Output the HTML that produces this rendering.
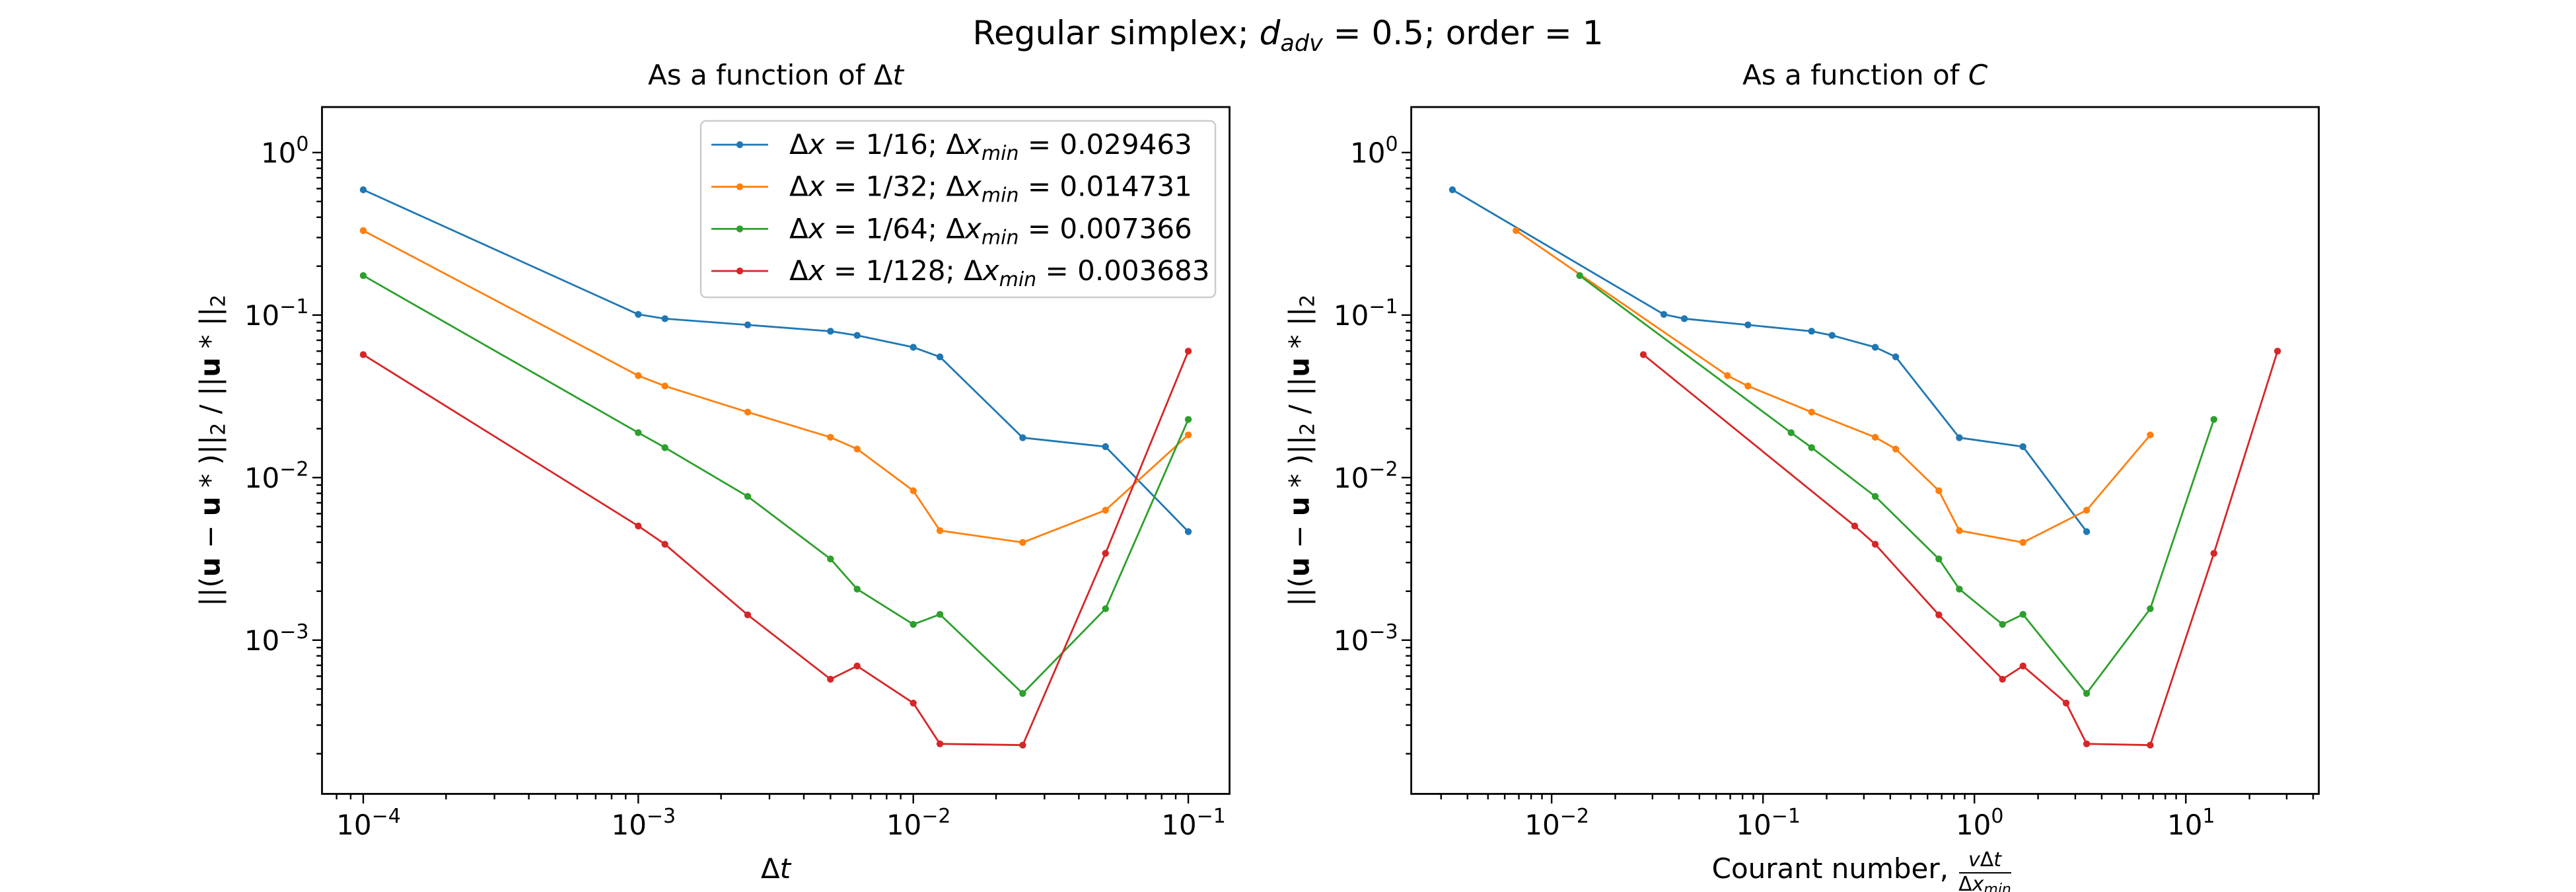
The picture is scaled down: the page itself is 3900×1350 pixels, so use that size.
<!DOCTYPE html>
<html><head><meta charset="utf-8"><style>
html,body{margin:0;padding:0;background:#fff;}
svg{display:block;font-family:"DejaVu Sans","Liberation Sans",sans-serif;}
</style></head><body>
<svg id="fig" width="3900" height="1350" viewBox="0 0 3900 1350" xmlns="http://www.w3.org/2000/svg">
<rect width="3900" height="1350" fill="#fff"/>
<text x="1950" y="67" font-size="50" text-anchor="middle">Regular simplex; <tspan font-style="italic">d</tspan><tspan font-style="italic" font-size="35" dy="10">adv</tspan><tspan dy="-10"> = 0.5; order = 1</tspan></text>
<g id="left"></g>
<g id="right"></g>
</svg>
<script>
const dt = [1e-4, 1e-3, 1.25e-3, 2.5e-3, 5e-3, 6.25e-3, 1e-2, 1.25e-2, 2.5e-2, 5e-2, 1e-1];
const dxLabels = ["1/16", "1/32", "1/64", "1/128"];
const dxMin = [0.029463, 0.014731, 0.007366, 0.003683];
const dxMinLabels = ["0.029463", "0.014731", "0.007366", "0.003683"];
const errBlue = [0.59, 0.101, 0.095, 0.087, 0.0795, 0.075, 0.0634, 0.0553, 0.0176, 0.0155, 0.00465];
const errOrange = [0.331, 0.0424, 0.0366, 0.0253, 0.0177, 0.0150, 0.0083, 0.00472, 0.00399, 0.0063, 0.0183];
const errGreen = [0.175, 0.0189, 0.0153, 0.00766, 0.00316, 0.00206, 0.00125, 0.00144, 0.00047, 0.00156, 0.0228];
const errRed = [0.0571, 0.00504, 0.00389, 0.00143, 0.000575, 0.000693, 0.00041, 0.00023, 0.000226, 0.00342, 0.06];
const yTickExps = [0, -1, -2, -3];
const xTickExpsLeft = [-4, -3, -2, -1];
const xTickExpsRight = [-2, -1, 0, 1];

const series = [errBlue, errOrange, errGreen, errRed];
const colors = ["#1f77b4", "#ff7f0e", "#2ca02c", "#d62728"];
const seriesNames = ["dx-16", "dx-32", "dx-64", "dx-128"];
const NS = "http://www.w3.org/2000/svg";
const T = 162, B = 1201.5, W = 1374;
const yLo = -3.946, yHi = 0.28;

function mk(tag, attrs, parent){ const e=document.createElementNS(NS,tag); for(const k in attrs) e.setAttribute(k,attrs[k]); if(parent) parent.appendChild(e); return e; }
function yScale(v){ return B - (Math.log10(v)-yLo)/(yHi-yLo)*(B-T); }
function makeX(L, lo, hi){ return v => L + (Math.log10(v)-lo)/(hi-lo)*W; }

function powLabel(g, x, y, e, anchor){
  const t = mk('text',{x:x,y:y,'font-size':42,'text-anchor':anchor},g);
  
  
  const a = mk('tspan',{},t); a.textContent='10';
  const b = mk('tspan',{dy:-18,'font-size':30},t); b.textContent=(e<0?'\u2212':'')+Math.abs(e);
  return t;
}

function drawPanel(g, L, lo, hi, xTicks, xs, title){
  const sx = makeX(L, lo, hi);
  const ticks = mk('g',{stroke:'#000','stroke-width':2.4},g);
  
  
  for(let d=Math.floor(lo); d<=Math.ceil(hi); d++){
    for(let m=1;m<10;m++){
      const v=m*Math.pow(10,d), lv=Math.log10(v);
      if(lv<lo||lv>hi) continue;
      const x=sx(v), len=m===1?14.6:8.3;
      mk('line',{x1:x,x2:x,y1:B,y2:B+len},ticks);
    }
  }
  for(let d=Math.floor(yLo); d<=Math.ceil(yHi); d++){
    for(let m=1;m<10;m++){
      const v=m*Math.pow(10,d), lv=Math.log10(v);
      if(lv<yLo||lv>yHi) continue;
      const y=yScale(v), len=m===1?14.6:8.3;
      mk('line',{x1:L,x2:L-len,y1:y,y2:y},ticks);
    }
  }
  xTicks.forEach(e=>{ powLabel(g, sx(Math.pow(10,e))+8, 1263, e, 'middle'); });
  yTickExps.forEach(e=>{ powLabel(g, L-20, yScale(Math.pow(10,e))+15, e, 'end'); });
  series.forEach((vals,i)=>{
    const sg = mk('g',{},g);
    
    
    const pts = vals.map((v,j)=>[xs(i,j,sx), yScale(v)]);
    const pl = mk('polyline',{points:pts.map(p=>p.join(',')).join(' '),fill:'none',stroke:colors[i],'stroke-width':2.8,'stroke-linejoin':'round'},sg);
    
    
    pts.forEach(p=>{
      const c = mk('circle',{cx:p[0],cy:p[1],r:5.2,fill:colors[i]},sg);
      
      
    });
  });
  const fr = mk('rect',{x:L,y:T,width:W,height:B-T,fill:'none',stroke:'#000','stroke-width':2.8},g);
  
  
  const tt = mk('text',{x:L+W/2,y:128,'font-size':42,'text-anchor':'middle'},g);
  
  
  tt.innerHTML = title;
  const yl = mk('text',{x:0,y:0,'font-size':42,'text-anchor':'middle',transform:`translate(${L-155},${(T+B)/2}) rotate(-90)`},g);
  
  
  yl.innerHTML = '||(<tspan font-weight="bold">u</tspan> \u2212 <tspan font-weight="bold">u</tspan> * )||<tspan font-size="30" dy="8">2</tspan><tspan dy="-8"> / ||</tspan><tspan font-weight="bold">u</tspan> * ||<tspan font-size="30" dy="8">2</tspan>';
}

const left = document.getElementById('left');
drawPanel(left, 487.5, -4.15, -0.85, xTickExpsLeft, (i,j,sx)=>sx(dt[j]), 'As a function of \u0394<tspan font-style="italic">t</tspan>');
const xlL = mk('text',{x:487.5+W/2,y:1329,'font-size':42,'text-anchor':'middle'},left);


xlL.innerHTML='\u0394<tspan font-style="italic">t</tspan>';

const lg = mk('g',{},left);


mk('rect',{x:1061,y:183,width:779,height:267,rx:8,fill:'#fff','fill-opacity':0.8,stroke:'#ccc','stroke-width':2.5},lg);
dxLabels.forEach((lab,i)=>{
  const y = 219 + i*63.7;
  const e = mk('g',{},lg);
  
  
  mk('line',{x1:1077,x2:1163,y1:y,y2:y,stroke:colors[i],'stroke-width':2.8},e);
  mk('circle',{cx:1120,cy:y,r:5.2,fill:colors[i]},e);
  const t = mk('text',{x:1195,y:y+14,'font-size':42},e);
  t.innerHTML = '\u0394<tspan font-style="italic">x</tspan> = '+lab+'; \u0394<tspan font-style="italic">x</tspan><tspan font-style="italic" font-size="30" dy="9">min</tspan><tspan dy="-9"> = '+dxMinLabels[i]+'</tspan>';
});

const right = document.getElementById('right');
drawPanel(right, 2136.6, -2.664, 1.629, xTickExpsRight, (i,j,sx)=>sx(dt[j]/dxMin[i]), 'As a function of <tspan font-style="italic">C</tspan>');
const xlR = mk('g',{},right);


const ct = mk('text',{x:2950,y:1329,'font-size':42,'text-anchor':'end'},xlR); ct.textContent='Courant number,';
const nu = mk('text',{x:3005,y:1311,'font-size':30,'text-anchor':'middle'},xlR);
nu.innerHTML='<tspan font-style="italic">v</tspan>\u0394<tspan font-style="italic">t</tspan>';
mk('line',{x1:2966,x2:3045,y1:1321,y2:1321,stroke:'#000','stroke-width':2},xlR);
const de = mk('text',{x:3005,y:1348,'font-size':30,'text-anchor':'middle'},xlR);
de.innerHTML='\u0394<tspan font-style="italic">x</tspan><tspan font-style="italic" font-size="22" dy="5">min</tspan>';
</script>
</body></html>
